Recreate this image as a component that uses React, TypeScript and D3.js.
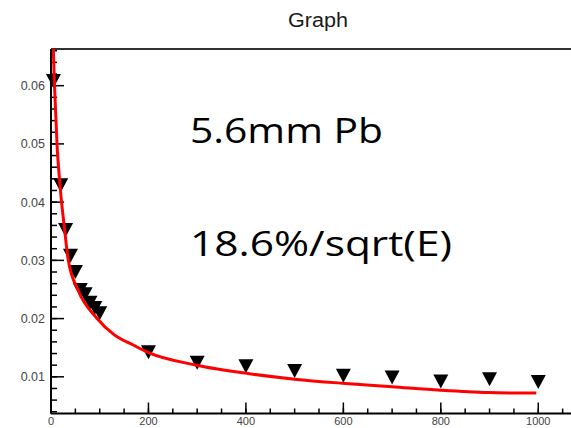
import React, { useEffect, useRef } from 'react';
import * as d3 from 'd3';

// measured points (energy, relative resolution)
const energies = [5, 20, 30, 40, 50, 60, 70, 80, 90, 100, 200, 300, 400, 500, 600, 700, 800, 900, 1000];
const resolution = [0.0608, 0.0429, 0.0352, 0.0308, 0.0280, 0.0249, 0.0242, 0.0227, 0.0218, 0.0209,
  0.0142, 0.0124, 0.0118, 0.0110, 0.0102, 0.0099, 0.0092, 0.0096, 0.0091];

// fit curve
const fitEnergies = [4.7, 7.2, 12.3, 18.5, 28, 35.5, 55.4, 93.7, 130, 168, 199, 299, 401, 500, 598, 700, 799, 897, 996];
const fitValues = [0.0663, 0.0600, 0.0500, 0.0429, 0.0352, 0.0300, 0.0249, 0.0201, 0.0172, 0.0155, 0.0142,
  0.0120, 0.0106, 0.0096, 0.0089, 0.0083, 0.0077, 0.0073, 0.0072];

const xTicks = [0, 200, 400, 600, 800, 1000];
const yTicks = [0.01, 0.02, 0.03, 0.04, 0.05, 0.06];
const xDomain = [0, 1100];
const yDomain = [0.0037, 0.0663];

const title = 'Graph';
const noteLines = ['5.6mm Pb', '18.6%/sqrt(E)'];

const W = 571, H = 428;
const frame = { left: 51, top: 49, bottom: 413.5, right: 587 };

export default function App() {
  const ref = useRef<SVGSVGElement>(null);

  useEffect(() => {
    const svg = d3.select(ref.current);
    svg.selectAll('*').remove();

    const x = d3.scaleLinear().domain(xDomain).range([frame.left, frame.right]);
    const y = d3.scaleLinear().domain(yDomain).range([frame.bottom, frame.top]);

    svg.append('rect').attr('width', W).attr('height', H).attr('fill', '#fff');

    svg.append('defs').append('clipPath').attr('id', 'plotclip')
      .append('rect')
      .attr('x', frame.left).attr('y', frame.top)
      .attr('width', W - frame.left).attr('height', frame.bottom - frame.top);

    // title
    svg.append('text')
      .attr('x', 288).attr('y', 27)
      .attr('font-family', 'Liberation Sans, Arial, sans-serif')
      .attr('font-size', 20)
      .attr('textLength', 60).attr('lengthAdjust', 'spacingAndGlyphs')
      .attr('fill', '#1a1a1a')
      .text(title);

    // frame lines
    svg.append('line')
      .attr('x1', frame.left).attr('x2', W).attr('y1', frame.top).attr('y2', frame.top)
      .attr('stroke', '#333').attr('stroke-width', 2);
    svg.append('line')
      .attr('x1', frame.left).attr('x2', frame.left).attr('y1', frame.top).attr('y2', frame.bottom)
      .attr('stroke', '#000').attr('stroke-width', 2);
    svg.append('line')
      .attr('x1', frame.left).attr('x2', W).attr('y1', frame.bottom).attr('y2', frame.bottom)
      .attr('stroke', '#000').attr('stroke-width', 2);

    // y ticks (inward)
    const yMinor = d3.range(0.004, 0.0665, 0.002);
    svg.append('g').selectAll('line').data(yMinor).enter().append('line')
      .attr('x1', frame.left).attr('x2', frame.left + 6)
      .attr('y1', d => y(d)).attr('y2', d => y(d))
      .attr('stroke', '#000').attr('stroke-width', 1.5);
    svg.append('g').selectAll('line').data(yTicks).enter().append('line')
      .attr('x1', frame.left).attr('x2', frame.left + 13)
      .attr('y1', d => y(d)).attr('y2', d => y(d))
      .attr('stroke', '#000').attr('stroke-width', 1.5);
    svg.append('g').selectAll('text').data(yTicks).enter().append('text')
      .attr('x', 45).attr('y', d => y(d) + 4.5)
      .attr('text-anchor', 'end')
      .attr('font-family', 'Liberation Sans, Arial, sans-serif')
      .attr('font-size', 12.5)
      .attr('fill', '#444')
      .text(d => d3.format('.2f')(d));

    // x ticks (inward)
    const xMinor = d3.range(0, 1101, 50);
    svg.append('g').selectAll('line').data(xMinor).enter().append('line')
      .attr('x1', d => x(d)).attr('x2', d => x(d))
      .attr('y1', frame.bottom).attr('y2', frame.bottom - 5)
      .attr('stroke', '#000').attr('stroke-width', 1.5);
    svg.append('g').selectAll('line').data(xTicks).enter().append('line')
      .attr('x1', d => x(d)).attr('x2', d => x(d))
      .attr('y1', frame.bottom).attr('y2', frame.bottom - 11)
      .attr('stroke', '#000').attr('stroke-width', 1.5);
    svg.append('g').selectAll('text').data(xTicks).enter().append('text')
      .attr('x', d => x(d)).attr('y', 424.5)
      .attr('text-anchor', 'middle')
      .attr('font-family', 'Liberation Sans, Arial, sans-serif')
      .attr('font-size', 11)
      .attr('fill', '#444')
      .text(d => String(d));

    // markers
    const pts = energies.map((e, i) => [e, resolution[i]]);
    svg.append('g').selectAll('path').data(pts).enter().append('path')
      .attr('transform', d => `translate(${x(d[0])},${y(d[1])})`)
      .attr('d', 'M-7.5,-7L7.5,-7L0,7Z')
      .attr('fill', '#000');

    // fit curve
    const fit = fitEnergies.map((e, i) => [e, fitValues[i]] as [number, number]);
    const line = d3.line<[number, number]>()
      .x(d => x(d[0])).y(d => y(d[1]))
      .curve(d3.curveMonotoneX);
    svg.append('path')
      .attr('clip-path', 'url(#plotclip)')
      .attr('d', line(fit))
      .attr('fill', 'none')
      .attr('stroke', '#ff0000')
      .attr('stroke-width', 3);

    // annotation
    svg.append('text')
      .attr('x', 190).attr('y', 142.5)
      .attr('font-family', 'Open Sans, Noto Sans, sans-serif')
      .attr('font-size', 34)
      .attr('textLength', 193).attr('lengthAdjust', 'spacingAndGlyphs')
      .attr('fill', '#000')
      .text(noteLines[0]);
    svg.append('text')
      .attr('x', 190).attr('y', 256)
      .attr('font-family', 'Open Sans, Noto Sans, sans-serif')
      .attr('font-size', 34)
      .attr('textLength', 262).attr('lengthAdjust', 'spacingAndGlyphs')
      .attr('fill', '#000')
      .text(noteLines[1]);
  }, []);

  return (
    <svg ref={ref} width={W} height={H}
      style={{ position: 'absolute', left: 0, top: 0, display: 'block' }} />
  );
}
